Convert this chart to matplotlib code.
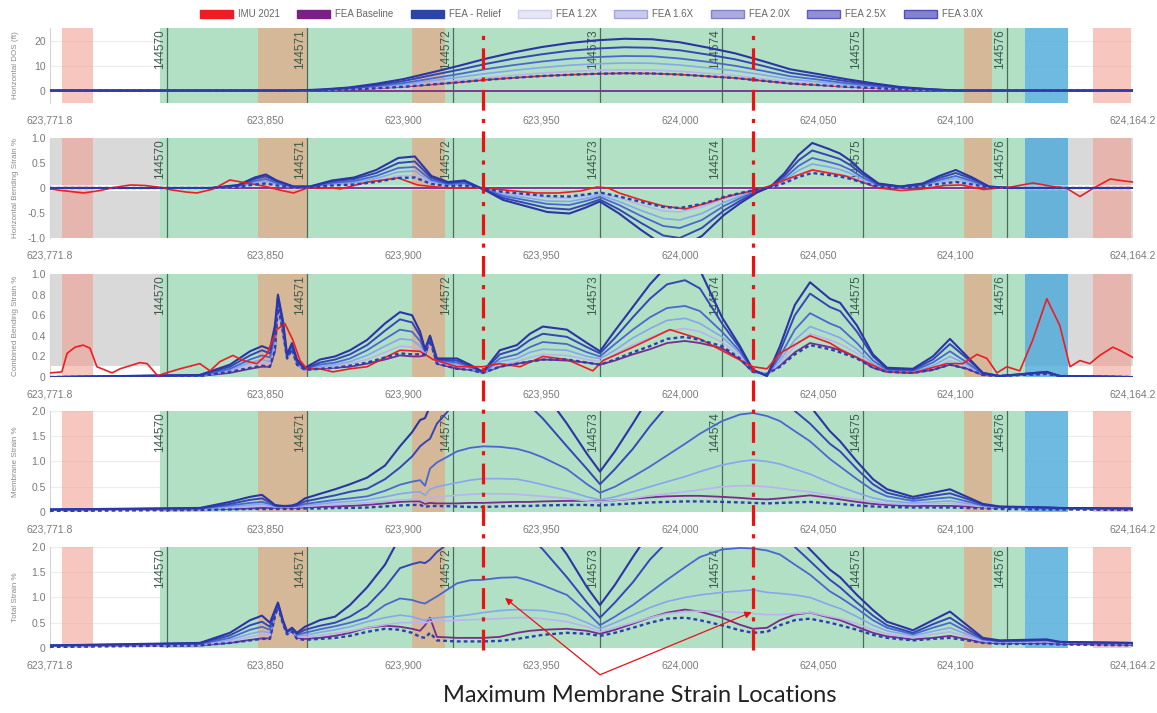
import matplotlib
matplotlib.use("Agg")
import matplotlib.pyplot as plt
from matplotlib.patches import Patch
from matplotlib.transforms import blended_transform_factory

plt.rcParams["font.family"] = ["Liberation Sans", "DejaVu Sans"]

# ── Stationing / zones ───────────────────────────────────────────────────────
X_MIN, X_MAX = 623771.8, 624164.2
XTICKS = [623771.8, 623850, 623900, 623950, 624000, 624050, 624100, 624164.2]
XTICKLABELS = ["623,771.8", "623,850", "623,900", "623,950", "624,000",
               "624,050", "624,100", "624,164.2"]
WELDS = [623814.2, 623864.9, 623917.8, 623971.1, 624015.3, 624066.4, 624118.5]
WELD_LABELS = ["144570", "144571", "144572", "144573", "144574", "144575", "144576"]
MAX_LOCS = [623928.7, 624026.5]
GREEN_ZONES = [(623811.7, 624125.1)]
BROWN_ZONES = [(623847.2, 623864.9), (623902.9, 623914.9), (624102.9, 624113.1)]
RED_ZONES = [(623776.1, 623787.4), (624149.7, 624163.5)]
BLUE_ZONES = [(624125.1, 624140.7)]
GREY_ZONES = [(X_MIN, 623811.7), (624125.1, X_MAX)]

# ── Panel 1: Horizontal DOS (ft) ─────────────────────────────────────────────
DOS_X = [623771.8, 623860, 623870, 623880, 623890, 623900, 623910, 623920, 623930,
         623940, 623950, 623960, 623970, 623980, 623990, 624000, 624010, 624020,
         624030, 624040, 624050, 624060, 624070, 624080, 624090, 624100, 624164.2]
DOS_RELIEF = [0, 0, 0.1, 0.4, 0.9, 1.5, 2.4, 3.3, 4.3, 5.1, 5.8, 6.3, 6.7, 6.9, 6.8,
              6.4, 5.7, 5.0, 3.9, 2.8, 2.2, 1.5, 1.0, 0.5, 0.2, 0, 0]
DOS_IMU = [0, 0, 0.1, 0.4, 0.9, 1.5, 2.4, 3.3, 4.3, 5.1, 5.8, 6.3, 6.7, 6.9, 6.8,
           6.4, 5.7, 5.0, 3.9, 2.8, 2.2, 1.5, 1.0, 0.5, 0.2, 0, 0]
DOS_12 = [0, 0, 0.2, 0.5, 1.1, 1.8, 2.9, 4.0, 5.1, 6.1, 7.0, 7.6, 8.1, 8.3, 8.2,
          7.7, 6.9, 6.0, 4.7, 3.4, 2.7, 1.8, 1.2, 0.6, 0.2, 0, 0]
DOS_16 = [0, 0, 0.2, 0.7, 1.4, 2.4, 3.9, 5.3, 6.8, 8.1, 9.2, 10.1, 10.7, 11.0, 10.9,
          10.2, 9.1, 7.9, 6.3, 4.5, 3.5, 2.4, 1.5, 0.8, 0.3, 0, 0]
DOS_20 = [0, 0, 0.3, 0.8, 1.8, 3.0, 4.8, 6.6, 8.6, 10.2, 11.6, 12.7, 13.4, 13.8, 13.7,
          12.8, 11.5, 9.9, 7.9, 5.7, 4.4, 3.0, 1.9, 1.0, 0.4, 0, 0]
DOS_25 = [0, 0, 0.3, 1.0, 2.2, 3.8, 6.1, 8.3, 10.7, 12.8, 14.5, 15.9, 16.8, 17.3, 17.1,
          16.1, 14.4, 12.5, 9.9, 7.1, 5.5, 3.8, 2.4, 1.2, 0.5, 0, 0]
DOS_30 = [0, 0, 0.4, 1.2, 2.7, 4.6, 7.2, 9.9, 12.8, 15.3, 17.4, 19.0, 20.1, 20.7, 20.5,
          19.3, 17.2, 14.9, 11.8, 8.5, 6.6, 4.6, 2.9, 1.4, 0.6, 0, 0]
FLAT_X = [X_MIN, X_MAX]
FLAT_Y = [0, 0]

# ── Panel 2: Horizontal Bending Strain % ─────────────────────────────────────
HBS_X = [623771.8, 623830, 623840, 623846, 623850, 623854, 623860, 623866, 623874, 623882,
         623890, 623898, 623904, 623910, 623916, 623922, 623929, 623936, 623944, 623952,
         623960, 623966, 623971, 623978, 623986, 623994, 624000, 624008, 624016, 624022,
         624028, 624033, 624038, 624043, 624048, 624054, 624058, 624062, 624066, 624072,
         624080, 624088, 624094, 624100, 624106, 624112, 624120, 624164.2]
HBS_RELIEF = [0, 0, 0.02, 0.07, 0.09, 0.05, 0.01, 0.01, 0.05, 0.07,
              0.12, 0.2, 0.21, 0.08, 0.04, 0.05, -0.01, -0.08, -0.12, -0.16,
              -0.17, -0.13, -0.09, -0.17, -0.28, -0.38, -0.4, -0.32, -0.18, -0.1,
              -0.03, 0.01, 0.1, 0.22, 0.3, 0.26, 0.23, 0.18, 0.11, 0.03,
              0.01, 0.03, 0.08, 0.12, 0.07, 0.01, 0, 0]
HBS_12 = [0, 0, 0.02, 0.08, 0.11, 0.06, 0.01, 0.01, 0.06, 0.08,
          0.14, 0.24, 0.25, 0.1, 0.05, 0.06, -0.01, -0.1, -0.14, -0.19,
          -0.2, -0.16, -0.11, -0.2, -0.34, -0.46, -0.48, -0.38, -0.22, -0.12,
          -0.04, 0.01, 0.12, 0.26, 0.36, 0.31, 0.28, 0.22, 0.13, 0.04,
          0.01, 0.04, 0.1, 0.14, 0.08, 0.01, 0, 0]
HBS_16 = [0, 0, 0.03, 0.11, 0.14, 0.08, 0.02, 0.02, 0.08, 0.11,
          0.19, 0.32, 0.34, 0.13, 0.06, 0.08, -0.02, -0.13, -0.19, -0.26,
          -0.27, -0.21, -0.14, -0.27, -0.45, -0.61, -0.64, -0.51, -0.29, -0.16,
          -0.05, 0.02, 0.16, 0.35, 0.48, 0.42, 0.37, 0.29, 0.18, 0.05,
          0.02, 0.05, 0.13, 0.19, 0.11, 0.02, 0, 0]
HBS_20 = [0, 0, 0.04, 0.14, 0.18, 0.1, 0.02, 0.02, 0.1, 0.14,
          0.24, 0.4, 0.42, 0.16, 0.08, 0.1, -0.02, -0.16, -0.24, -0.32,
          -0.34, -0.26, -0.18, -0.34, -0.56, -0.76, -0.8, -0.64, -0.36, -0.2,
          -0.06, 0.02, 0.2, 0.44, 0.6, 0.52, 0.46, 0.36, 0.22, 0.06,
          0.02, 0.06, 0.16, 0.24, 0.14, 0.02, 0, 0]
HBS_25 = [0, 0, 0.05, 0.18, 0.23, 0.13, 0.03, 0.03, 0.13, 0.18,
          0.3, 0.5, 0.53, 0.2, 0.1, 0.13, -0.03, -0.2, -0.3, -0.4,
          -0.43, -0.33, -0.23, -0.43, -0.7, -0.95, -1.0, -0.8, -0.45, -0.25,
          -0.08, 0.03, 0.25, 0.55, 0.75, 0.65, 0.58, 0.45, 0.28, 0.08,
          0.03, 0.08, 0.2, 0.3, 0.18, 0.03, 0, 0]
HBS_30 = [0, 0, 0.06, 0.21, 0.27, 0.15, 0.03, 0.03, 0.15, 0.21,
          0.36, 0.6, 0.63, 0.24, 0.12, 0.15, -0.03, -0.24, -0.36, -0.48,
          -0.51, -0.39, -0.27, -0.51, -0.84, -1.14, -1.2, -0.96, -0.54, -0.3,
          -0.09, 0.03, 0.3, 0.66, 0.9, 0.78, 0.69, 0.54, 0.33, 0.09,
          0.03, 0.09, 0.24, 0.36, 0.21, 0.03, 0, 0]
HBS_IMU_X = [623771.8, 623776, 623784, 623790, 623796, 623801, 623806, 623811, 623816, 623821,
             623825, 623831, 623837, 623843, 623850, 623855, 623860, 623865, 623874, 623877,
             623887, 623898, 623905, 623910, 623916, 623929, 623940, 623948, 623956, 623964,
             623970, 623974, 623978, 623986, 623994, 624002, 624010, 624018, 624026, 624032,
             624040, 624048, 624054, 624060, 624066, 624072, 624080, 624088, 624096, 624102,
             624110, 624120, 624128, 624135, 624140, 624145, 624150, 624156, 624161, 624164.2]
HBS_IMU = [-0.02, -0.05, -0.1, -0.05, 0.02, 0.06, 0.05, 0.02, -0.04, -0.08,
           -0.1, -0.02, 0.16, 0.1, 0.03, -0.04, -0.1, 0.0, 0.0, -0.02,
           0.12, 0.2, 0.06, 0.03, 0.0, 0.0, -0.06, -0.1, -0.1, -0.06,
           0.02, 0.0, -0.1, -0.24, -0.36, -0.42, -0.3, -0.16, -0.06, 0.03,
           0.2, 0.36, 0.3, 0.24, 0.12, 0.0, -0.05, -0.02, 0.05, 0.06,
           -0.03, 0.02, 0.1, 0.03, 0.0, -0.17, 0.0, 0.18, 0.14, 0.12]

# ── Panels 3-5 share one station grid ────────────────────────────────────────
G_X = [623771.8, 623826.1, 623837.0, 623844.3, 623848.6, 623851.5, 623853.3, 623854.4, 623856.2, 623857.7,
       623859.5, 623861.3, 623864.2, 623869.6, 623875.1, 623880.5, 623886.7, 623893.2, 623898.6, 623903.0,
       623905.9, 623907.7, 623909.5, 623912.0, 623919.3, 623924.0, 623928.7, 623934.8, 623941.0, 623945.7,
       623950.4, 623959.1, 623966.4, 623971.1, 623976.5, 623983.0, 623989.2, 623995.4, 624001.9, 624007.3,
       624015.3, 624021.8, 624026.5, 624031.6, 624036.3, 624041.7, 624047.2, 624054.4, 624058.1, 624064.2,
       624070.0, 624075.1, 624084.5, 624091.7, 624097.9, 624104.1, 624109.8, 624116.0, 624133.0, 624137.7,
       624164.2]

# Panel 3: Combined Bending Strain %
CBS_30 = [0, 0.02, 0.12, 0.25, 0.3, 0.27, 0.5, 0.8, 0.55, 0.22,
          0.33, 0.17, 0.09, 0.17, 0.2, 0.26, 0.36, 0.52, 0.63, 0.6,
          0.44, 0.27, 0.4, 0.18, 0.18, 0.12, 0.05, 0.26, 0.31, 0.42,
          0.49, 0.46, 0.33, 0.25, 0.45, 0.68, 0.9, 1.08, 1.15, 1.04,
          0.58, 0.3, 0.07, 0.01, 0.3, 0.7, 0.92, 0.76, 0.72, 0.5,
          0.22, 0.09, 0.08, 0.2, 0.37, 0.2, 0.04, 0.01, 0.05, 0.01, 0]
CBS_25 = [0, 0.02, 0.1, 0.21, 0.26, 0.23, 0.45, 0.78, 0.52, 0.2,
          0.31, 0.15, 0.08, 0.14, 0.17, 0.22, 0.31, 0.45, 0.56, 0.53,
          0.4, 0.26, 0.4, 0.17, 0.16, 0.11, 0.05, 0.22, 0.27, 0.36,
          0.42, 0.39, 0.29, 0.23, 0.38, 0.58, 0.76, 0.9, 0.94, 0.86,
          0.52, 0.28, 0.07, 0.01, 0.25, 0.6, 0.81, 0.68, 0.64, 0.44,
          0.2, 0.08, 0.07, 0.17, 0.32, 0.18, 0.04, 0.01, 0.05, 0.01, 0]
CBS_20 = [0, 0.01, 0.08, 0.17, 0.21, 0.19, 0.4, 0.76, 0.5, 0.2,
          0.3, 0.14, 0.08, 0.12, 0.14, 0.18, 0.26, 0.37, 0.46, 0.44,
          0.35, 0.25, 0.39, 0.16, 0.14, 0.1, 0.04, 0.18, 0.22, 0.29,
          0.34, 0.32, 0.24, 0.2, 0.32, 0.46, 0.58, 0.67, 0.69, 0.64,
          0.44, 0.25, 0.06, 0.02, 0.2, 0.46, 0.62, 0.52, 0.48, 0.33,
          0.16, 0.07, 0.06, 0.14, 0.25, 0.14, 0.03, 0.01, 0.04, 0.01, 0]
CBS_16 = [0, 0.01, 0.07, 0.14, 0.17, 0.15, 0.35, 0.74, 0.48, 0.19,
          0.29, 0.13, 0.07, 0.1, 0.12, 0.15, 0.21, 0.3, 0.37, 0.36,
          0.3, 0.24, 0.38, 0.15, 0.12, 0.09, 0.04, 0.15, 0.18, 0.24,
          0.27, 0.26, 0.2, 0.18, 0.26, 0.38, 0.47, 0.55, 0.57, 0.52,
          0.39, 0.23, 0.06, 0.02, 0.16, 0.36, 0.49, 0.42, 0.38, 0.27,
          0.13, 0.06, 0.05, 0.11, 0.2, 0.12, 0.03, 0.01, 0.04, 0.01, 0]
CBS_12 = [0, 0.01, 0.06, 0.12, 0.14, 0.13, 0.3, 0.72, 0.46, 0.18,
          0.28, 0.12, 0.07, 0.09, 0.1, 0.13, 0.17, 0.24, 0.3, 0.29,
          0.26, 0.23, 0.37, 0.14, 0.1, 0.08, 0.04, 0.12, 0.15, 0.19,
          0.22, 0.21, 0.17, 0.15, 0.22, 0.31, 0.38, 0.45, 0.47, 0.44,
          0.34, 0.2, 0.06, 0.03, 0.13, 0.3, 0.42, 0.36, 0.32, 0.23,
          0.11, 0.06, 0.05, 0.09, 0.16, 0.1, 0.03, 0.01, 0.03, 0.01, 0]
CBS_RELIEF = [0, 0.01, 0.05, 0.09, 0.11, 0.1, 0.26, 0.7, 0.44, 0.18,
              0.27, 0.12, 0.07, 0.08, 0.09, 0.11, 0.14, 0.19, 0.23, 0.22,
              0.22, 0.22, 0.36, 0.13, 0.08, 0.07, 0.04, 0.1, 0.13, 0.15,
              0.17, 0.17, 0.14, 0.12, 0.17, 0.24, 0.3, 0.37, 0.39, 0.36,
              0.3, 0.18, 0.05, 0.03, 0.1, 0.22, 0.31, 0.27, 0.24, 0.18,
              0.09, 0.05, 0.04, 0.07, 0.12, 0.08, 0.02, 0.01, 0.03, 0.01, 0]
CBS_BASE = [0, 0.01, 0.04, 0.08, 0.1, 0.1, 0.25, 0.7, 0.44, 0.18,
            0.27, 0.12, 0.07, 0.08, 0.09, 0.1, 0.13, 0.17, 0.21, 0.2,
            0.2, 0.21, 0.36, 0.13, 0.08, 0.07, 0.04, 0.1, 0.13, 0.15,
            0.17, 0.16, 0.14, 0.12, 0.16, 0.22, 0.27, 0.33, 0.35, 0.33,
            0.28, 0.17, 0.05, 0.03, 0.11, 0.24, 0.33, 0.29, 0.26, 0.19,
            0.09, 0.05, 0.04, 0.07, 0.12, 0.08, 0.02, 0.01, 0.03, 0.01, 0]
CBS_IMU_X = [623771.8, 623776.1, 623778.0, 623780.9, 623783.8, 623786.3, 623788.8, 623794.3, 623797.2, 623804.4,
             623807.0, 623810.9, 623812.7, 623818.9, 623826.1, 623829.8, 623833.4, 623838.1, 623841.7, 623846.8,
             623850.4, 623854.0, 623856.9, 623859.8, 623862.4, 623864.9, 623869.6, 623874.3, 623880.5, 623886.7,
             623892.5, 623898.6, 623905.9, 623910.6, 623919.3, 623928.7, 623934.8, 623942.1, 623950.4, 623959.1,
             623968.5, 623972.2, 623983.0, 623996.4, 624007.3, 624019.3, 624026.5, 624031.6, 624036.3, 624047.2,
             624054.4, 624058.1, 624066.4, 624075.1, 624084.5, 624096.8, 624102.6, 624107.7, 624111.3, 624114.9,
             624118.5, 624123.2, 624127.9, 624133.0, 624137.7, 624141.4, 624145.0, 624148.6, 624152.2, 624156.9,
             624159.4, 624164.2]
CBS_IMU = [0.04, 0.05, 0.23, 0.29, 0.31, 0.28, 0.1, 0.04, 0.08, 0.14,
           0.13, 0.01, 0.03, 0.08, 0.13, 0.06, 0.15, 0.21, 0.16, 0.13,
           0.22, 0.46, 0.52, 0.36, 0.16, 0.08, 0.08, 0.05, 0.08, 0.1,
           0.18, 0.26, 0.25, 0.17, 0.1, 0.1, 0.13, 0.1, 0.2, 0.17,
           0.06, 0.16, 0.29, 0.46, 0.37, 0.2, 0.1, 0.08, 0.23, 0.4,
           0.33, 0.27, 0.16, 0.05, 0.04, 0.13, 0.13, 0.22, 0.18, 0.04,
           0.1, 0.06, 0.36, 0.76, 0.5, 0.1, 0.16, 0.13, 0.21, 0.29,
           0.26, 0.19]

# Panel 4: Membrane Strain %
MEM_30 = [0.05, 0.08, 0.2, 0.3, 0.34, 0.22, 0.14, 0.13, 0.12, 0.12,
          0.13, 0.16, 0.27, 0.36, 0.45, 0.55, 0.68, 0.92, 1.3, 1.58,
          1.82, 1.86, 2.1, 2.3, 2.6, 2.8, 2.9, 2.9, 2.8, 2.6,
          2.4, 1.75, 1.15, 0.8, 1.2, 1.75, 2.3, 2.7, 3.0, 3.0,
          3.0, 3.0, 3.0, 2.9, 2.7, 2.4, 2.1, 1.6, 1.4, 1.0,
          0.65, 0.45, 0.3, 0.38, 0.45, 0.3, 0.16, 0.11, 0.09, 0.08, 0.07]
MEM_25 = [0.05, 0.07, 0.16, 0.24, 0.27, 0.19, 0.13, 0.12, 0.12, 0.12,
          0.12, 0.14, 0.21, 0.27, 0.33, 0.4, 0.46, 0.65, 0.88, 1.1,
          1.3, 1.38, 1.45, 1.75, 2.2, 2.4, 2.5, 2.5, 2.4, 2.1,
          1.85, 1.3, 0.85, 0.55, 0.85, 1.25, 1.7, 2.1, 2.5, 2.6,
          2.7, 2.7, 2.6, 2.5, 2.3, 2.0, 1.75, 1.35, 1.2, 0.85,
          0.55, 0.38, 0.26, 0.32, 0.37, 0.26, 0.15, 0.1, 0.09, 0.08, 0.07]
MEM_20 = [0.05, 0.07, 0.13, 0.18, 0.2, 0.16, 0.12, 0.11, 0.11, 0.11,
          0.11, 0.12, 0.16, 0.2, 0.24, 0.27, 0.31, 0.42, 0.54, 0.6,
          0.63, 0.52, 0.86, 0.98, 1.2, 1.27, 1.3, 1.29, 1.25, 1.18,
          1.08, 0.85, 0.55, 0.38, 0.5, 0.7, 0.9, 1.12, 1.35, 1.55,
          1.8, 1.93, 1.96, 1.9, 1.8, 1.6, 1.4, 1.05, 0.9, 0.65,
          0.43, 0.31, 0.22, 0.26, 0.29, 0.21, 0.13, 0.1, 0.08, 0.08, 0.06]
MEM_16 = [0.05, 0.06, 0.1, 0.14, 0.16, 0.13, 0.11, 0.1, 0.1, 0.1,
          0.1, 0.11, 0.13, 0.16, 0.19, 0.21, 0.24, 0.3, 0.36, 0.39,
          0.4, 0.33, 0.45, 0.5, 0.58, 0.63, 0.66, 0.66, 0.65, 0.6,
          0.54, 0.42, 0.3, 0.24, 0.3, 0.4, 0.5, 0.6, 0.7, 0.8,
          0.93, 1.0, 1.03, 1.0, 0.95, 0.85, 0.75, 0.58, 0.5, 0.38,
          0.28, 0.22, 0.18, 0.2, 0.22, 0.17, 0.12, 0.09, 0.08, 0.07, 0.06]
MEM_12 = [0.04, 0.05, 0.08, 0.11, 0.12, 0.11, 0.1, 0.09, 0.09, 0.09,
          0.09, 0.1, 0.11, 0.13, 0.15, 0.16, 0.18, 0.21, 0.24, 0.25,
          0.25, 0.2, 0.28, 0.3, 0.33, 0.35, 0.36, 0.36, 0.35, 0.33,
          0.31, 0.27, 0.22, 0.2, 0.23, 0.27, 0.32, 0.36, 0.4, 0.44,
          0.5, 0.52, 0.52, 0.5, 0.47, 0.43, 0.4, 0.33, 0.3, 0.25,
          0.2, 0.17, 0.15, 0.16, 0.17, 0.14, 0.1, 0.08, 0.07, 0.07, 0.06]
MEM_RELIEF = [0.02, 0.04, 0.05, 0.06, 0.06, 0.06, 0.06, 0.06, 0.06, 0.06,
              0.06, 0.06, 0.07, 0.07, 0.08, 0.08, 0.09, 0.11, 0.13, 0.14,
              0.14, 0.1, 0.12, 0.12, 0.11, 0.1, 0.1, 0.11, 0.12, 0.12,
              0.13, 0.14, 0.14, 0.13, 0.15, 0.17, 0.19, 0.2, 0.21, 0.21,
              0.2, 0.19, 0.18, 0.17, 0.18, 0.19, 0.2, 0.17, 0.16, 0.13,
              0.11, 0.1, 0.09, 0.09, 0.09, 0.08, 0.07, 0.06, 0.05, 0.05, 0.04]
MEM_BASE = [0.04, 0.05, 0.06, 0.07, 0.08, 0.08, 0.08, 0.08, 0.08, 0.08,
            0.08, 0.08, 0.09, 0.1, 0.11, 0.12, 0.14, 0.17, 0.2, 0.21,
            0.21, 0.16, 0.18, 0.17, 0.17, 0.18, 0.18, 0.19, 0.2, 0.2,
            0.21, 0.22, 0.22, 0.21, 0.23, 0.26, 0.29, 0.31, 0.32, 0.32,
            0.3, 0.28, 0.26, 0.25, 0.27, 0.3, 0.33, 0.28, 0.25, 0.2,
            0.16, 0.14, 0.12, 0.12, 0.12, 0.11, 0.09, 0.08, 0.07, 0.06, 0.05]

# Panel 5: Total Strain %
TOT_30 = [0.05, 0.1, 0.3, 0.55, 0.64, 0.5, 0.75, 0.9, 0.55, 0.33,
          0.4, 0.3, 0.42, 0.55, 0.62, 0.85, 1.2, 1.65, 2.2, 2.4,
          2.5, 2.5, 2.6, 2.7, 2.9, 3.0, 3.0, 3.0, 2.9, 2.7,
          2.5, 1.85, 1.2, 0.85, 1.25, 1.8, 2.3, 2.7, 3.0, 3.0,
          3.0, 3.0, 3.0, 2.9, 2.7, 2.3, 1.95, 1.55, 1.4, 1.05,
          0.75, 0.52, 0.35, 0.55, 0.72, 0.45, 0.2, 0.15, 0.17, 0.12, 0.1]
TOT_25 = [0.05, 0.09, 0.25, 0.45, 0.52, 0.42, 0.72, 0.88, 0.53, 0.32,
          0.38, 0.28, 0.36, 0.44, 0.5, 0.62, 0.83, 1.2, 1.58, 1.66,
          1.7, 1.68, 1.75, 1.9, 2.2, 2.4, 2.5, 2.5, 2.4, 2.2,
          1.95, 1.4, 0.9, 0.6, 0.9, 1.3, 1.75, 2.1, 2.5, 2.6,
          2.7, 2.7, 2.6, 2.5, 2.3, 2.0, 1.72, 1.35, 1.2, 0.9,
          0.64, 0.45, 0.3, 0.47, 0.6, 0.38, 0.18, 0.14, 0.16, 0.12, 0.1]
TOT_20 = [0.05, 0.08, 0.2, 0.36, 0.42, 0.36, 0.7, 0.87, 0.52, 0.31,
          0.37, 0.26, 0.3, 0.37, 0.43, 0.5, 0.6, 0.85, 0.98, 0.95,
          0.9, 0.88, 0.94, 1.02, 1.28, 1.34, 1.35, 1.39, 1.4, 1.33,
          1.24, 1.05, 0.7, 0.45, 0.62, 0.85, 1.1, 1.35, 1.6, 1.8,
          1.95, 1.98, 1.97, 1.93, 1.85, 1.65, 1.45, 1.12, 1.0, 0.78,
          0.55, 0.4, 0.27, 0.4, 0.5, 0.32, 0.17, 0.13, 0.15, 0.11, 0.09]
TOT_16 = [0.05, 0.07, 0.16, 0.28, 0.33, 0.3, 0.68, 0.86, 0.51, 0.3,
          0.36, 0.24, 0.25, 0.31, 0.36, 0.42, 0.52, 0.6, 0.65, 0.62,
          0.57, 0.55, 0.58, 0.6, 0.63, 0.66, 0.7, 0.74, 0.76, 0.75,
          0.74, 0.66, 0.5, 0.38, 0.5, 0.65, 0.8, 0.92, 1.0, 1.05,
          1.1, 1.13, 1.15, 1.1, 1.08, 1.05, 1.0, 0.85, 0.78, 0.62,
          0.45, 0.34, 0.24, 0.33, 0.4, 0.27, 0.15, 0.12, 0.14, 0.1, 0.08]
TOT_12 = [0.04, 0.06, 0.13, 0.22, 0.26, 0.25, 0.66, 0.85, 0.5, 0.29,
          0.35, 0.22, 0.21, 0.25, 0.29, 0.33, 0.4, 0.46, 0.5, 0.5,
          0.5, 0.5, 0.52, 0.53, 0.55, 0.56, 0.57, 0.58, 0.6, 0.6,
          0.58, 0.52, 0.42, 0.32, 0.4, 0.5, 0.6, 0.68, 0.72, 0.73,
          0.72, 0.7, 0.68, 0.66, 0.66, 0.68, 0.7, 0.62, 0.58, 0.48,
          0.36, 0.28, 0.2, 0.27, 0.32, 0.22, 0.13, 0.11, 0.12, 0.1, 0.08]
TOT_RELIEF = [0.02, 0.05, 0.1, 0.15, 0.18, 0.18, 0.62, 0.82, 0.48, 0.27,
              0.33, 0.18, 0.16, 0.18, 0.2, 0.24, 0.32, 0.38, 0.36, 0.3,
              0.22, 0.2, 0.3, 0.15, 0.13, 0.13, 0.13, 0.14, 0.18, 0.22,
              0.26, 0.3, 0.28, 0.24, 0.3, 0.4, 0.5, 0.58, 0.6, 0.55,
              0.45, 0.35, 0.3, 0.32, 0.45, 0.55, 0.58, 0.5, 0.45, 0.36,
              0.26, 0.2, 0.15, 0.18, 0.2, 0.15, 0.1, 0.08, 0.08, 0.07, 0.05]
TOT_BASE = [0.04, 0.05, 0.1, 0.16, 0.19, 0.19, 0.64, 0.84, 0.49, 0.28,
            0.34, 0.2, 0.18, 0.2, 0.24, 0.3, 0.4, 0.44, 0.42, 0.38,
            0.34, 0.45, 0.6, 0.22, 0.2, 0.2, 0.2, 0.22, 0.3, 0.34,
            0.36, 0.38, 0.34, 0.28, 0.36, 0.48, 0.6, 0.7, 0.76, 0.72,
            0.6, 0.46, 0.38, 0.4, 0.55, 0.66, 0.7, 0.6, 0.55, 0.42,
            0.3, 0.23, 0.17, 0.2, 0.24, 0.17, 0.11, 0.09, 0.1, 0.08, 0.06]

# ── Styles ───────────────────────────────────────────────────────────────────
STYLE = {
    "imu_low": dict(color="#ee1d23", lw=1.2, zorder=2.9),
    "base":    dict(color="#7a2b8c", lw=1.3, zorder=3.0),
    "12":      dict(color="#b9b3ee", lw=1.2, zorder=3.1),
    "16":      dict(color="#86a6ee", lw=1.2, zorder=3.2),
    "20":      dict(color="#4a67d0", lw=1.3, zorder=3.3),
    "25":      dict(color="#3546b6", lw=1.4, zorder=3.4),
    "30":      dict(color="#2c35a4", lw=1.5, zorder=3.5),
    "imu":     dict(color="#ee1d23", lw=1.2, zorder=3.8),
    "relief":  dict(color="#2b3fae", lw=1.7, ls=(0, (1.6, 1.3)), zorder=4.0),
}
LEGEND = [
    ("IMU 2021", "#ee1d23", "#ee1d23"),
    ("FEA Baseline", "#7a1f86", "#7a1f86"),
    ("FEA - Relief", "#2b44a8", "#2b44a8"),
    ("FEA 1.2X", "#e6e6f6", "#cfcfee"),
    ("FEA 1.6X", "#cacaee", "#a4a4dc"),
    ("FEA 2.0X", "#ababe2", "#8282ca"),
    ("FEA 2.5X", "#9090d8", "#5c5cb8"),
    ("FEA 3.0X", "#8282d0", "#5050b0"),
]

panels = [
    dict(ylabel="Horizontal DOS (ft)", ylim=(-5, 25), yticks=[0, 10, 20],
         ylabels=["0", "10", "20"], grey=None, box=(0.8555, 0.1052),
         lines=[(DOS_X, DOS_IMU, "imu_low"), (FLAT_X, FLAT_Y, "base"), (DOS_X, DOS_12, "12"),
                (DOS_X, DOS_16, "16"), (DOS_X, DOS_20, "20"), (DOS_X, DOS_25, "25"),
                (DOS_X, DOS_30, "30"), (DOS_X, DOS_RELIEF, "relief")]),
    dict(ylabel="Horizontal Bending Strain %", ylim=(-1, 1), yticks=[-1, -0.5, 0, 0.5, 1],
         ylabels=["-1.0", "-0.5", "0", "0.5", "1.0"], grey="split", box=(0.6662, 0.1403),
         lines=[(FLAT_X, FLAT_Y, "base"), (HBS_X, HBS_12, "12"), (HBS_X, HBS_16, "16"),
                (HBS_X, HBS_20, "20"), (HBS_X, HBS_25, "25"), (HBS_X, HBS_30, "30"),
                (HBS_X, HBS_RELIEF, "relief"), (HBS_IMU_X, HBS_IMU, "imu")]),
    dict(ylabel="Combined Bending Strain %", ylim=(0, 1), yticks=[0, 0.2, 0.4, 0.6, 0.8, 1.0],
         ylabels=["0", "0.2", "0.4", "0.6", "0.8", "1.0"], grey="upper", box=(0.4712, 0.1445),
         lines=[(G_X, CBS_BASE, "base"), (G_X, CBS_12, "12"), (G_X, CBS_16, "16"),
                (G_X, CBS_20, "20"), (G_X, CBS_25, "25"), (G_X, CBS_30, "30"),
                (G_X, CBS_RELIEF, "relief"), (CBS_IMU_X, CBS_IMU, "imu")]),
    dict(ylabel="Membrane Strain %", ylim=(0, 2), yticks=[0, 0.5, 1.0, 1.5, 2.0],
         ylabels=["0", "0.5", "1.0", "1.5", "2.0"], grey=None, box=(0.2819, 0.1417),
         lines=[(G_X, MEM_BASE, "base"), (G_X, MEM_12, "12"), (G_X, MEM_16, "16"),
                (G_X, MEM_20, "20"), (G_X, MEM_25, "25"), (G_X, MEM_30, "30"),
                (G_X, MEM_RELIEF, "relief")]),
    dict(ylabel="Total Strain %", ylim=(0, 2), yticks=[0, 0.5, 1.0, 1.5, 2.0],
         ylabels=["0", "0.5", "1.0", "1.5", "2.0"], grey=None, box=(0.0912, 0.1417),
         lines=[(G_X, TOT_BASE, "base"), (G_X, TOT_12, "12"), (G_X, TOT_16, "16"),
                (G_X, TOT_20, "20"), (G_X, TOT_25, "25"), (G_X, TOT_30, "30"),
                (G_X, TOT_RELIEF, "relief")]),
]

# ── Plot ─────────────────────────────────────────────────────────────────────
fig = plt.figure(figsize=(11.57, 7.13), dpi=100)
axes = []
for p in panels:
    bottom, height = p["box"]
    ax = fig.add_axes([0.0432, bottom, 0.936, height])
    axes.append(ax)
    ax.set_xlim(X_MIN, X_MAX)
    ax.set_ylim(*p["ylim"])

    # background zones
    if p["grey"] == "split":
        for a, b in GREY_ZONES:
            ax.axvspan(a, b, ymin=0, ymax=0.47, color="#d9d9d9", lw=0, zorder=0.6)
            ax.axvspan(a, b, ymin=0.53, ymax=1, color="#d9d9d9", lw=0, zorder=0.6)
    elif p["grey"] == "upper":
        for a, b in GREY_ZONES:
            ax.axvspan(a, b, ymin=0.11, ymax=1, color="#d9d9d9", lw=0, zorder=0.6)
    for a, b in GREEN_ZONES:
        ax.axvspan(a, b, color="#b1e0c5", lw=0, zorder=0.7)
    for a, b in BROWN_ZONES:
        ax.axvspan(a, b, color="#d4b898", lw=0, zorder=0.8)
    for a, b in RED_ZONES:
        ax.axvspan(a, b, color="#f29a8c", alpha=0.55, lw=0, zorder=0.8)
    for a, b in BLUE_ZONES:
        ax.axvspan(a, b, color="#4aa9d9", alpha=0.8, lw=0, zorder=0.8)
    if p["grey"] == "split":
        ax.axhspan(-0.05, 0.05, color="white", alpha=0.35, lw=0, zorder=0.9)

    # girth weld markers
    trans = blended_transform_factory(ax.transData, ax.transAxes)
    for w, lab in zip(WELDS, WELD_LABELS):
        ax.axvline(w, color="#4d6b5a", lw=0.9, zorder=1.0)
        ax.text(w - 0.4, 0.985, lab, transform=trans, rotation=90, ha="right", va="top",
                fontsize=8.5, color="#3c5a49", zorder=1.1)

    for xs, ys, key in p["lines"]:
        st = STYLE[key]
        ax.plot(xs, ys, color=st["color"], lw=st["lw"], ls=st.get("ls", "-"),
                zorder=st["zorder"], solid_joinstyle="round")

    ax.set_xticks(XTICKS)
    ax.set_xticklabels(XTICKLABELS)
    ax.set_yticks(p["yticks"])
    ax.set_yticklabels(p["ylabels"])
    ax.tick_params(axis="both", length=0, labelsize=7.5, labelcolor="#7a7a7a")
    ax.tick_params(axis="x", pad=9)
    ax.tick_params(axis="y", pad=3)
    ax.set_ylabel(p["ylabel"], fontsize=5.8, color="#8a8a8a")
    ax.yaxis.set_label_coords(-0.029, 0.5)
    for side in ("top", "right", "bottom"):
        ax.spines[side].set_visible(False)
    ax.spines["left"].set_color("#d6d6d6")
    ax.spines["left"].set_linewidth(0.8)
    ax.grid(axis="y", color="#ececec", lw=0.8)
    ax.set_axisbelow(True)

# red dash-dot lines through all panels at the maximum membrane strain locations
ax5 = axes[-1]
ftrans = blended_transform_factory(ax5.transData, fig.transFigure)
for x in MAX_LOCS:
    ax5.plot([x, x], [0.088, 0.961], transform=ftrans, clip_on=False, color="#ee1111",
             lw=2.3, ls=(0, (6.5, 2.6, 1.3, 2.6)), zorder=10)

# caption and arrows
fig.text(0.553, 1 - 696 / 713, "Maximum Membrane Strain Locations", ha="center",
         va="center", fontsize=17, family=["Lato", "DejaVu Sans"], color="#222222")
ARROW_TAIL = (623971.1, -0.53)
ARROW_HEADS = [(623936.7, 0.99), (624026.1, 0.71)]
for head in ARROW_HEADS:
    ax5.annotate("", xy=head, xytext=ARROW_TAIL, annotation_clip=False,
                 arrowprops=dict(arrowstyle="-|>", color="#e8101a", lw=0.9,
                                 mutation_scale=10, shrinkA=0, shrinkB=0), zorder=11)

# legend
handles = [Patch(facecolor=fc, edgecolor=ec, lw=1) for _, fc, ec in LEGEND]
fig.legend(handles, [l for l, _, _ in LEGEND], loc="center", bbox_to_anchor=(0.511, 0.980),
           ncol=8, frameon=False, fontsize=7, handlelength=3.4, handleheight=1.0,
           columnspacing=1.8, handletextpad=0.5, labelcolor="#666666")

fig.savefig("out.png", dpi=100, facecolor="white")
